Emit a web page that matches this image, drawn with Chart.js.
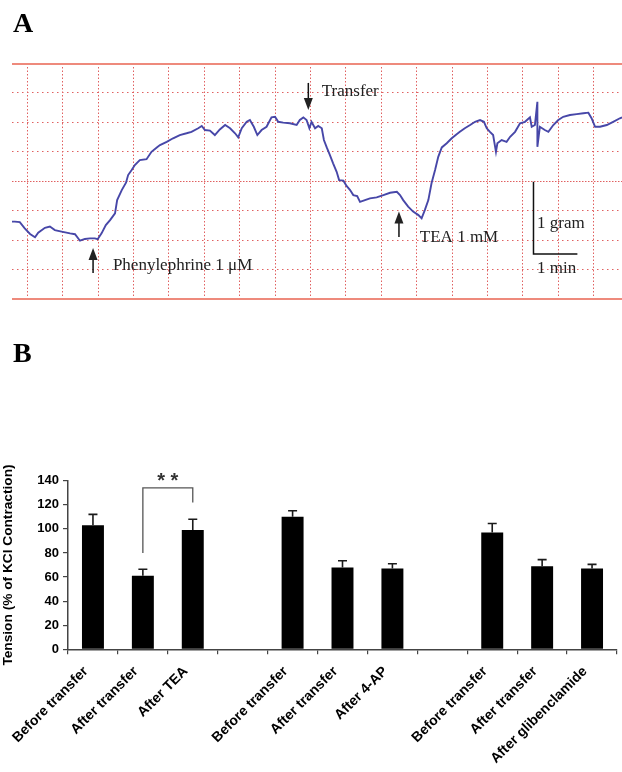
<!DOCTYPE html>
<html>
<head>
<meta charset="utf-8">
<script src="https://cdn.jsdelivr.net/npm/chart.js@4.4.1/dist/chart.umd.min.js"></script>
<style>
  html, body { margin: 0; padding: 0; background: #fff; }
  #wrap { position: relative; width: 622px; height: 772px; }
  .panel { position: absolute; left: 0; width: 622px; }
  #panelA { top: 0; height: 330px; }
  #panelB { top: 330px; height: 442px; }
</style>
</head>
<body>
<div id="wrap">
  <div class="panel" id="panelA"><canvas id="chartTrace"></canvas></div>
  <div class="panel" id="panelB"><canvas id="chartTension"></canvas></div>
</div>
<script>
// Panel A: recorder trace in grid divisions
const traceX = [
  -0.43, -0.35, -0.21, -0.07, 0.08, 0.22, 0.31, 0.50, 0.64, 0.78,
  0.97, 1.21, 1.35, 1.49, 1.63, 1.77, 1.91, 1.99, 2.10, 2.22,
  2.34, 2.48, 2.54, 2.67, 2.79, 2.85, 2.95, 3.04, 3.18, 3.37,
  3.51, 3.66, 3.75, 3.94, 4.12, 4.31, 4.50, 4.64, 4.83, 4.93,
  5.02, 5.16, 5.30, 5.44, 5.59, 5.73, 5.87, 5.96, 6.06, 6.20,
  6.29, 6.40, 6.50, 6.62, 6.76, 6.90, 7.00, 7.09, 7.23, 7.42,
  7.61, 7.70, 7.80, 7.89, 7.97, 8.03, 8.13, 8.22, 8.32, 8.38,
  8.46, 8.55, 8.64, 8.74, 8.81, 8.93, 9.02, 9.12, 9.21, 9.32,
  9.40, 9.54, 9.68, 9.87, 10.06, 10.25, 10.44, 10.53, 10.62, 10.76,
  10.90, 11.05, 11.14, 11.23, 11.33, 11.42, 11.52, 11.61, 11.71, 11.85,
  11.99, 12.13, 12.22, 12.36, 12.51, 12.65, 12.79, 12.90, 12.98, 13.07,
  13.16, 13.24, 13.28, 13.40, 13.54, 13.64, 13.78, 13.92, 14.06, 14.20,
  14.25, 14.34, 14.41, 14.41, 14.48, 14.62, 14.72, 14.86, 15.00, 15.14,
  15.33, 15.52, 15.71, 15.85, 15.94, 16.04, 16.18, 16.37, 16.55, 16.74,
  16.80
];
const traceY = [
  2.63, 2.63, 2.61, 2.40, 2.21, 2.10, 2.25, 2.42, 2.46, 2.34,
  2.29, 2.23, 2.20, 1.98, 2.04, 2.06, 2.06, 2.03, 2.23, 2.51,
  2.68, 2.91, 3.36, 3.70, 3.95, 4.21, 4.38, 4.55, 4.72, 4.75,
  5.00, 5.15, 5.23, 5.34, 5.46, 5.57, 5.63, 5.68, 5.80, 5.88,
  5.74, 5.72, 5.57, 5.76, 5.91, 5.80, 5.63, 5.49, 5.80, 6.02,
  6.08, 5.85, 5.57, 5.74, 5.85, 6.17, 6.19, 6.02, 5.99, 5.97,
  5.91, 6.08, 6.17, 6.08, 5.80, 6.02, 5.80, 5.88, 5.80, 5.40,
  5.15, 4.89, 4.61, 4.32, 4.04, 4.02, 3.84, 3.70, 3.53, 3.50,
  3.30, 3.36, 3.42, 3.45, 3.53, 3.61, 3.64, 3.53, 3.36, 3.14,
  2.97, 2.85, 2.74, 3.02, 3.36, 3.93, 4.38, 4.83, 5.15, 5.29,
  5.46, 5.60, 5.68, 5.80, 5.91, 6.02, 6.08, 6.02, 5.80, 5.68,
  5.57, 5.00, 5.29, 5.40, 5.34, 5.51, 5.68, 5.97, 6.02, 6.17,
  5.85, 5.91, 6.70, 5.17, 5.85, 5.74, 5.68, 5.91, 6.08, 6.19,
  6.25, 6.28, 6.31, 6.33, 6.14, 5.85, 5.85, 5.91, 6.02, 6.14,
  6.17
];

// Panel B: tension as % of KCl contraction (mean and SEM)
const categories = [
  'Before transfer', 'After transfer', 'After TEA', '',
  'Before transfer', 'After transfer', 'After 4-AP', '',
  'Before transfer', 'After transfer', 'After glibenclamide'
];
const tensionMeans = [103, 61, 99, null, 110, 68, 67, null, 97, 69, 67];
const tensionSem = [9, 5.5, 9, null, 5, 5.5, 4, null, 7.5, 5.5, 3.5];
const tensionTicks = [0, 20, 40, 60, 80, 100, 120, 140];

// annotations of panel A, in the same grid units as the trace
const traceNotes = [
  { text: 'Phenylephrine 1 \u03bcM', x: 2.42, y: 0.98 },
  { text: 'Transfer', x: 8.32, y: 6.9 },
  { text: 'TEA 1 mM', x: 11.09, y: 1.94 },
  { text: '1 gram', x: 14.40, y: 2.41 },
  { text: '1 min', x: 14.40, y: 0.88 }
];
const traceArrows = [
  { x: 1.86, from: 0.88, to: 1.73 },
  { x: 7.94, from: 7.34, to: 6.42 },
  { x: 10.5, from: 2.11, to: 2.97 }
];
const scaleBar = { x0: 14.30, x1: 15.54, y0: 1.53, y1: 3.98 };
const significance = { from: 1, to: 2, leftBase: 80, rightBase: 122, top: 134, label: '* *' };

Chart.defaults.font.family = '"Liberation Sans", Arial, sans-serif';
Chart.defaults.animation = false;

const serif = '"Liberation Serif", "Times New Roman", serif';
const paperRed = '#e06060';
const paperEdge = '#ee8a7c';

const isEdge = (c) => c.tick && (c.tick.value === 0 || c.tick.value === 8);

const drawPanelLetter = (ctx, letter) => {
    ctx.save();
    ctx.fillStyle = '#000';
    ctx.font = 'bold 28px ' + serif;
    ctx.textBaseline = 'alphabetic';
    ctx.fillText(letter, 13, 32);
    ctx.restore();
};

const traceAnnotations = {
    id: 'traceAnnotations',
    afterDraw(chart) {
        const { ctx, scales: { x, y } } = chart;
        drawPanelLetter(ctx, 'A');

        ctx.save();
        ctx.fillStyle = '#222';
        ctx.strokeStyle = '#111';
        ctx.lineWidth = 1.5;
        ctx.font = '17px ' + serif;
        traceNotes.forEach(n => {
            ctx.fillText(n.text, x.getPixelForValue(n.x), y.getPixelForValue(n.y));
        });

        traceArrows.forEach(a => {
            const px = x.getPixelForValue(a.x);
            const tail = y.getPixelForValue(a.from);
            const tip = y.getPixelForValue(a.to);
            const dir = tip < tail ? 1 : -1;
            ctx.beginPath();
            ctx.moveTo(px, tail);
            ctx.lineTo(px, tip + dir * 6);
            ctx.stroke();
            ctx.beginPath();
            ctx.moveTo(px, tip);
            ctx.lineTo(px - 4.5, tip + dir * 12);
            ctx.lineTo(px + 4.5, tip + dir * 12);
            ctx.closePath();
            ctx.fill();
        });

        ctx.beginPath();
        ctx.moveTo(x.getPixelForValue(scaleBar.x0), y.getPixelForValue(scaleBar.y1));
        ctx.lineTo(x.getPixelForValue(scaleBar.x0), y.getPixelForValue(scaleBar.y0));
        ctx.lineTo(x.getPixelForValue(scaleBar.x1), y.getPixelForValue(scaleBar.y0));
        ctx.stroke();
        ctx.restore();
    }
};

const barExtras = {
    id: 'barExtras',
    afterDatasetsDraw(chart) {
        const { ctx, scales: { y } } = chart;
        const meta = chart.getDatasetMeta(0);
        drawPanelLetter(ctx, 'B');

        ctx.save();
        ctx.strokeStyle = '#1a1a1a';
        ctx.lineWidth = 1.6;
        meta.data.forEach((bar, i) => {
            const m = tensionMeans[i];
            const e = tensionSem[i];
            if (m == null) return;
            const top = y.getPixelForValue(m + e);
            ctx.beginPath();
            ctx.moveTo(bar.x, bar.y);
            ctx.lineTo(bar.x, top);
            ctx.moveTo(bar.x - 4.5, top);
            ctx.lineTo(bar.x + 4.5, top);
            ctx.stroke();
        });

        const left = meta.data[significance.from].x;
        const right = meta.data[significance.to].x;
        const top = y.getPixelForValue(significance.top);
        ctx.strokeStyle = '#555';
        ctx.lineWidth = 1.3;
        ctx.beginPath();
        ctx.moveTo(left, y.getPixelForValue(significance.leftBase));
        ctx.lineTo(left, top);
        ctx.lineTo(right, top);
        ctx.lineTo(right, y.getPixelForValue(significance.rightBase));
        ctx.stroke();

        ctx.fillStyle = '#333';
        ctx.font = 'bold 20px "Liberation Sans", Arial, sans-serif';
        ctx.textAlign = 'center';
        ctx.textBaseline = 'alphabetic';
        ctx.fillText(significance.label, (left + right) / 2, top - 1);
        ctx.restore();
    }
};

const buildTraceChart = () => {
    const canvas = document.getElementById('chartTrace');
    if (!canvas) return;

    new Chart(canvas.getContext('2d'), {
        type: 'line',
        data: {
            datasets: [{
                data: traceX.map((v, i) => ({ x: v, y: traceY[i] })),
                borderColor: '#4747a8',
                borderWidth: 1.9,
                pointRadius: 0,
                tension: 0
            }]
        },
        options: {
            responsive: true,
            maintainAspectRatio: false,
            layout: { padding: { top: 63.5, left: 12, right: 0, bottom: 31 } },
            scales: {
                x: {
                    type: 'linear',
                    min: -0.43,
                    max: 16.8,
                    afterFit: s => { s.height = 0; },
                    ticks: { display: false, stepSize: 1, includeBounds: false },
                    grid: { color: paperRed, lineWidth: 1, drawTicks: false },
                    border: { display: false, dash: [1.5, 2] }
                },
                y: {
                    min: 0,
                    max: 8,
                    afterFit: s => { s.width = 0; },
                    ticks: { display: false, stepSize: 1 },
                    grid: {
                        drawTicks: false,
                        color: c => isEdge(c) ? paperEdge : paperRed,
                        lineWidth: c => isEdge(c) ? 2 : 1
                    },
                    border: {
                        display: false,
                        dash: c => {
                            if (isEdge(c)) return [];
                            return c.tick && c.tick.value === 4 ? [1.5, 1.5] : [1.5, 3.5];
                        }
                    }
                }
            },
            plugins: {
                legend: { display: false },
                tooltip: { enabled: false }
            }
        },
        plugins: [traceAnnotations]
    });
};

const buildTensionChart = () => {
    const canvas = document.getElementById('chartTension');
    if (!canvas) return;

    new Chart(canvas.getContext('2d'), {
        type: 'bar',
        data: {
            labels: categories,
            datasets: [{
                data: tensionMeans,
                backgroundColor: '#000',
                borderWidth: 0,
                categoryPercentage: 1,
                barPercentage: 0.44
            }]
        },
        options: {
            responsive: true,
            maintainAspectRatio: false,
            layout: { padding: { top: 150.7, left: 0, right: 5, bottom: 0 } },
            scales: {
                x: {
                    afterFit: s => { s.height = 122.7; },
                    ticks: {
                        autoSkip: false,
                        minRotation: 45,
                        maxRotation: 45,
                        color: '#000',
                        padding: 9,
                        labelOffset: -7,
                        font: { size: 14, weight: 'bold' }
                    },
                    grid: { offset: true, drawOnChartArea: false, tickLength: 5, color: '#444', lineWidth: 1.2 },
                    border: { color: '#444', width: 1.5 }
                },
                y: {
                    min: 0,
                    max: 140,
                    afterFit: s => { s.width = 68; },
                    afterBuildTicks: s => { s.ticks = tensionTicks.map(v => ({ value: v })); },
                    ticks: { color: '#000', padding: 4, font: { size: 13, weight: 'bold' } },
                    grid: { drawOnChartArea: false, tickLength: 5, color: '#444', lineWidth: 1.2 },
                    border: { color: '#444', width: 1.5 },
                    title: {
                        display: true,
                        text: 'Tension (% of KCl Contraction)',
                        color: '#000',
                        padding: { top: 0, bottom: 0 },
                        font: { size: 13.7, weight: 'bold' }
                    }
                }
            },
            plugins: {
                legend: { display: false },
                tooltip: { enabled: false }
            }
        },
        plugins: [barExtras]
    });
};

buildTraceChart();
buildTensionChart();
</script>
</body>
</html>
